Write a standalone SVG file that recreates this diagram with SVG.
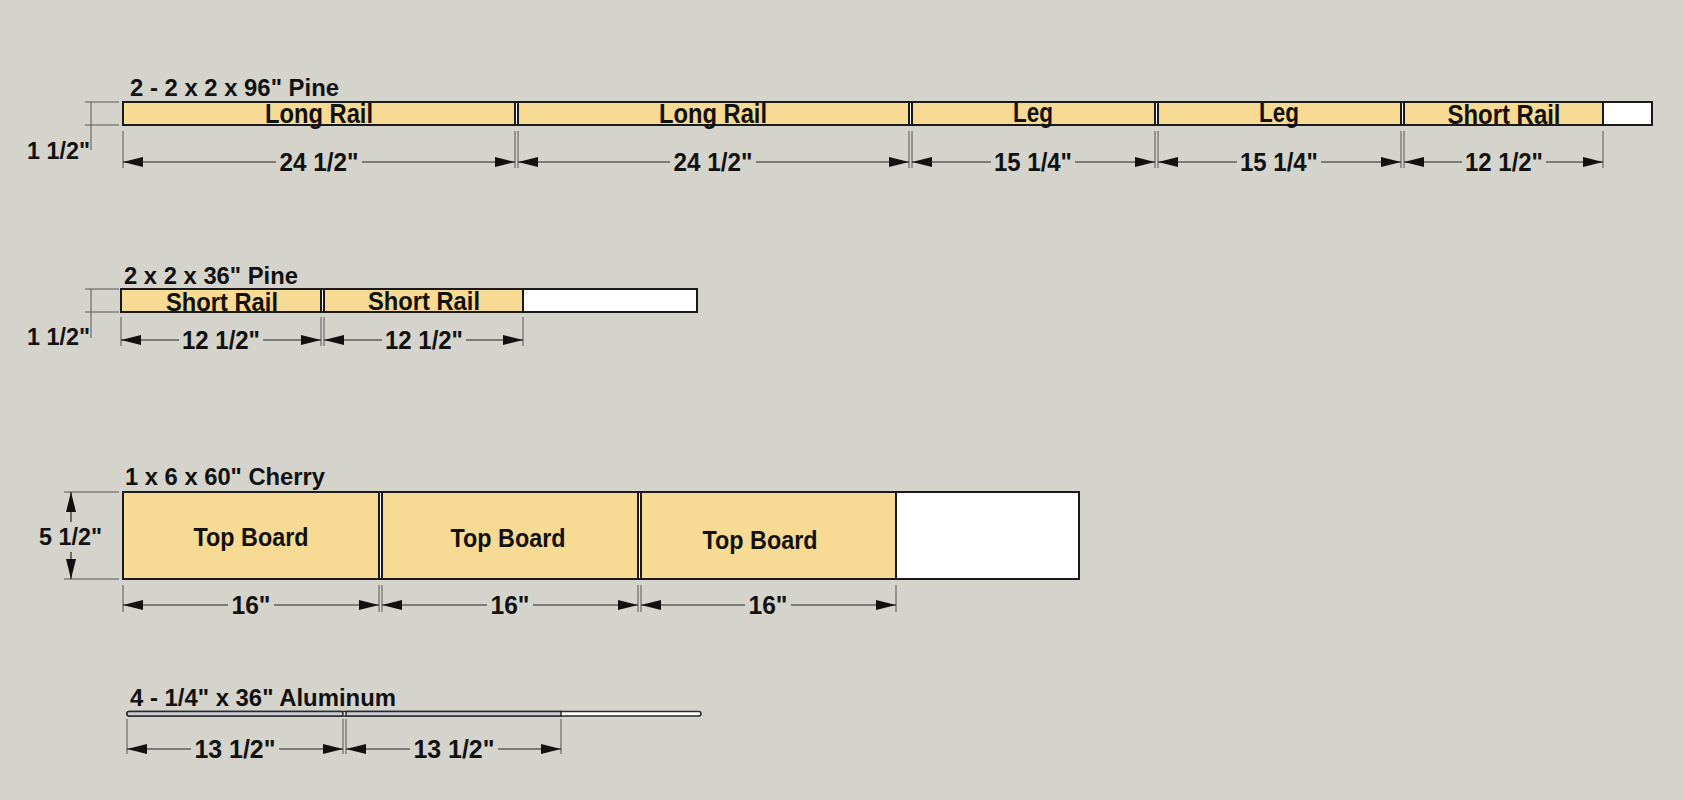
<svg xmlns="http://www.w3.org/2000/svg" width="1684" height="800" viewBox="0 0 1684 800">
<defs>
<marker id="arr" viewBox="0 0 20 10" refX="20" refY="5" markerWidth="20" markerHeight="10" markerUnits="userSpaceOnUse" orient="auto-start-reverse"><path d="M0,0 L20,5 L0,10 z" fill="#111"/></marker>
<style>
.t{font-family:"Liberation Sans",Arial,sans-serif;font-weight:bold;fill:#111}
.title{font-size:23px}
.lab{font-size:27px;text-anchor:middle}
.lab2{font-size:25px;text-anchor:middle}
.lab3{font-size:25px;text-anchor:middle}
.dim{font-size:25px;text-anchor:middle}
.side{font-size:24px}
.stock{fill:#ffffff;stroke:#1a1a1a;stroke-width:2}
.cut{fill:#f7da94;stroke:#1a1a1a;stroke-width:2}
.al{fill:#ffffff;stroke:#2a2a2a;stroke-width:1.5}
.alcut{fill:#c9ccd4;stroke:#2a2a2a;stroke-width:1.5}
.dl{stroke:#222;stroke-width:1.2;fill:none}
.ext{stroke:#555;stroke-width:1;fill:none}
</style>
</defs>
<rect width="1684" height="800" fill="#d4d4cc"/>

<g id="row1">
<text class="t title" x="130" y="96" textLength="209" lengthAdjust="spacingAndGlyphs">2 - 2 x 2 x 96" Pine</text>
<rect class="stock" x="123" y="102" width="1529" height="23"/>
<rect class="cut" x="123" y="102" width="392" height="23"/>
<rect class="cut" x="518" y="102" width="391" height="23"/>
<rect class="cut" x="912" y="102" width="243" height="23"/>
<rect class="cut" x="1158" y="102" width="243" height="23"/>
<rect class="cut" x="1404" y="102" width="199" height="23"/>
<text class="t lab" x="319" y="123" textLength="108" lengthAdjust="spacingAndGlyphs">Long Rail</text>
<text class="t lab" x="713" y="123" textLength="108" lengthAdjust="spacingAndGlyphs">Long Rail</text>
<text class="t lab" x="1033" y="122" textLength="40" lengthAdjust="spacingAndGlyphs">Leg</text>
<text class="t lab" x="1279" y="122" textLength="40" lengthAdjust="spacingAndGlyphs">Leg</text>
<text class="t lab" x="1504" y="124" textLength="113" lengthAdjust="spacingAndGlyphs">Short Rail</text>
</g>

<g id="row2">
<text class="t title" x="124" y="284" textLength="174" lengthAdjust="spacingAndGlyphs">2 x 2 x 36" Pine</text>
<rect class="stock" x="121" y="289" width="576" height="23"/>
<rect class="cut" x="121" y="289" width="200" height="23"/>
<rect class="cut" x="324" y="289" width="199" height="23"/>
<text class="t lab2" x="222" y="311" textLength="112" lengthAdjust="spacingAndGlyphs">Short Rail</text>
<text class="t lab2" x="424" y="310" textLength="112" lengthAdjust="spacingAndGlyphs">Short Rail</text>
</g>

<g id="row3">
<text class="t title" x="125" y="485" textLength="200" lengthAdjust="spacingAndGlyphs">1 x 6 x 60" Cherry</text>
<rect class="stock" x="123" y="492" width="956" height="87"/>
<rect class="cut" x="123" y="492" width="256" height="87"/>
<rect class="cut" x="382" y="492" width="256" height="87"/>
<rect class="cut" x="641" y="492" width="255" height="87"/>
<text class="t lab3" x="251" y="546" textLength="115" lengthAdjust="spacingAndGlyphs">Top Board</text>
<text class="t lab3" x="508" y="547" textLength="115" lengthAdjust="spacingAndGlyphs">Top Board</text>
<text class="t lab3" x="760" y="549" textLength="115" lengthAdjust="spacingAndGlyphs">Top Board</text>
</g>

<g id="row4">
<text class="t title" x="130" y="706" textLength="266" lengthAdjust="spacingAndGlyphs">4 - 1/4" x 36" Aluminum</text>
<rect class="al" x="127" y="711.5" width="574" height="4.5" rx="2.2"/>
<rect class="alcut" x="127" y="711.5" width="216" height="4.5" rx="2"/>
<rect class="alcut" x="346" y="711.5" width="215" height="4.5"/>
</g>

<g id="dimensions">
<path class="ext" d="M85 102H119M85 125H119M91 102V150"/>
<text class="t side" x="27" y="159" textLength="63" lengthAdjust="spacingAndGlyphs">1 1/2"</text>
<path class="ext" d="M123 131V168M515 131V168M518 131V168M909 131V168M912 131V168M1155 131V168M1158 131V168M1401 131V168M1404 131V168M1603 131V168"/>
<path class="dl" marker-start="url(#arr)" d="M123 162H276"/><path class="dl" marker-end="url(#arr)" d="M362 162H515"/>
<path class="dl" marker-start="url(#arr)" d="M518 162H670"/><path class="dl" marker-end="url(#arr)" d="M756 162H909"/>
<path class="dl" marker-start="url(#arr)" d="M912 162H991"/><path class="dl" marker-end="url(#arr)" d="M1075 162H1155"/>
<path class="dl" marker-start="url(#arr)" d="M1158 162H1237"/><path class="dl" marker-end="url(#arr)" d="M1321 162H1401"/>
<path class="dl" marker-start="url(#arr)" d="M1404 162H1462"/><path class="dl" marker-end="url(#arr)" d="M1546 162H1603"/>
<text class="t dim" x="319" y="171" textLength="79" lengthAdjust="spacingAndGlyphs">24 1/2"</text>
<text class="t dim" x="713" y="171" textLength="79" lengthAdjust="spacingAndGlyphs">24 1/2"</text>
<text class="t dim" x="1033" y="171" textLength="78" lengthAdjust="spacingAndGlyphs">15 1/4"</text>
<text class="t dim" x="1279" y="171" textLength="78" lengthAdjust="spacingAndGlyphs">15 1/4"</text>
<text class="t dim" x="1504" y="171" textLength="78" lengthAdjust="spacingAndGlyphs">12 1/2"</text>

<path class="ext" d="M85 289H119M85 312H119M91 289V338"/>
<text class="t side" x="27" y="345" textLength="63" lengthAdjust="spacingAndGlyphs">1 1/2"</text>
<path class="ext" d="M121 317V346M321 317V346M324 317V346M523 317V346"/>
<path class="dl" marker-start="url(#arr)" d="M121 340H179"/><path class="dl" marker-end="url(#arr)" d="M263 340H321"/>
<path class="dl" marker-start="url(#arr)" d="M324 340H382"/><path class="dl" marker-end="url(#arr)" d="M466 340H523"/>
<text class="t dim" x="221" y="349" textLength="78" lengthAdjust="spacingAndGlyphs">12 1/2"</text>
<text class="t dim" x="424" y="349" textLength="78" lengthAdjust="spacingAndGlyphs">12 1/2"</text>

<path class="ext" d="M64 492H119M64 579H119"/>
<path class="dl" marker-end="url(#arr)" d="M71 522V492"/><path class="dl" marker-end="url(#arr)" d="M71 552V579"/>
<text class="t side" x="39" y="545" textLength="63" lengthAdjust="spacingAndGlyphs">5 1/2"</text>
<path class="ext" d="M123 585V612M379 585V612M382 585V612M638 585V612M641 585V612M896 585V612"/>
<path class="dl" marker-start="url(#arr)" d="M123 605H228"/><path class="dl" marker-end="url(#arr)" d="M274 605H379"/>
<path class="dl" marker-start="url(#arr)" d="M382 605H487"/><path class="dl" marker-end="url(#arr)" d="M533 605H638"/>
<path class="dl" marker-start="url(#arr)" d="M641 605H745"/><path class="dl" marker-end="url(#arr)" d="M791 605H896"/>
<text class="t dim" x="251" y="614" textLength="39" lengthAdjust="spacingAndGlyphs">16"</text>
<text class="t dim" x="510" y="614" textLength="39" lengthAdjust="spacingAndGlyphs">16"</text>
<text class="t dim" x="768" y="614" textLength="39" lengthAdjust="spacingAndGlyphs">16"</text>

<path class="ext" d="M127 719V754M343 719V754M346 719V754M561 719V754"/>
<path class="dl" marker-start="url(#arr)" d="M127 749H191"/><path class="dl" marker-end="url(#arr)" d="M279 749H343"/>
<path class="dl" marker-start="url(#arr)" d="M346 749H410"/><path class="dl" marker-end="url(#arr)" d="M498 749H561"/>
<text class="t dim" x="235" y="758" textLength="81" lengthAdjust="spacingAndGlyphs">13 1/2"</text>
<text class="t dim" x="454" y="758" textLength="81" lengthAdjust="spacingAndGlyphs">13 1/2"</text>
</g>
</svg>
